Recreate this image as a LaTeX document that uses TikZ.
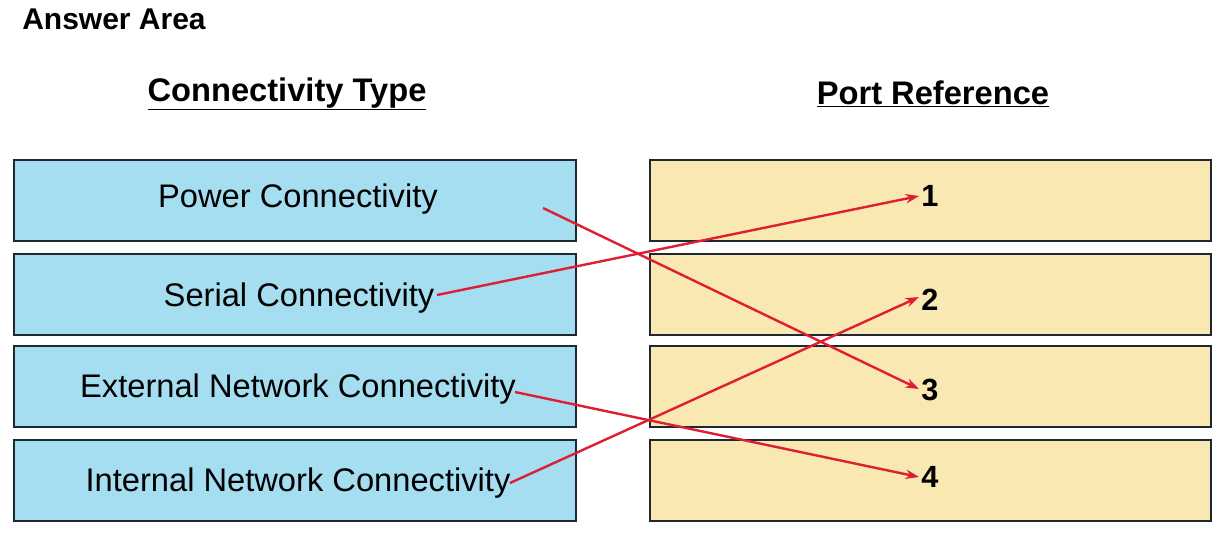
\documentclass[tikz,border=0pt]{standalone}
\usepackage{fontspec}
\setmainfont{Liberation Sans}
\usetikzlibrary{arrows.meta}
\definecolor{boxblue}{RGB}{164,222,240}
\definecolor{boxyellow}{RGB}{249,232,178}
\definecolor{boxedge}{RGB}{30,40,50}
\definecolor{arrowred}{RGB}{222,30,50}
\tikzset{
  leftbox/.style={draw=boxedge, line width=1.5pt, fill=boxblue, minimum width=421.5pt, minimum height=60.75pt, inner sep=0pt},
  rightbox/.style={draw=boxedge, line width=1.5pt, fill=boxyellow, minimum width=420.75pt, minimum height=60.75pt, inner sep=0pt},
  boxtext/.style={font=\fontsize{24.5pt}{28pt}\selectfont, inner sep=0pt, anchor=center},
  heading/.style={font=\bfseries\fontsize{24.5pt}{28pt}\selectfont, inner sep=0pt},
  num/.style={font=\bfseries\fontsize{23pt}{26pt}\selectfont, inner sep=0pt},
  link/.style={draw=arrowred, line width=1.8pt, -{Stealth[length=10pt,width=7pt]}}
}
\begin{document}
\begin{tikzpicture}[x=0.75pt,y=-0.75pt]
\useasboundingbox (0,0) rectangle (1217,537);
\fill[white] (0,0) rectangle (1217,537);
\node[font=\bfseries\fontsize{22.5pt}{26pt}\selectfont, inner sep=0pt, anchor=west] (title) at (22,19) {Answer Area};
\node[heading] (h1) at (287,94) {\underline{Connectivity Type}};
\node[heading] (h2) at (933,94) {\underline{Port Reference}};
% left boxes
\node[leftbox] (l1) at (295,200.5) {};
\node[leftbox] (l2) at (295,294.5) {};
\node[leftbox] (l3) at (295,386.5) {};
\node[leftbox] (l4) at (295,480.5) {};
\node[boxtext] (t1) at (298,199) {Power Connectivity};
\node[boxtext] (t2) at (299,298) {Serial Connectivity};
\node[boxtext] (t3) at (298,389) {External Network Connectivity};
\node[boxtext] (t4) at (298,483) {Internal Network Connectivity};
% right boxes
\node[rightbox] (r1) at (930.5,200.5) {};
\node[rightbox] (r2) at (930.5,294.5) {};
\node[rightbox] (r3) at (930.5,386.5) {};
\node[rightbox] (r4) at (930.5,480.5) {};
\node[num] (n1) at (930,196) {1};
\node[num] (n2) at (930,300) {2};
\node[num] (n3) at (930,390) {3};
\node[num] (n4) at (930,477) {4};
% arrow starts and ends
\coordinate (s1) at (543,208);
\coordinate (s2) at (437,295);
\coordinate (s3) at (515,392);
\coordinate (s4) at (510,483);
\coordinate (e1) at (919,196);
\coordinate (e2) at (919,297);
\coordinate (e3) at (919,389);
\coordinate (e4) at (919,477);
\draw[link] (s1) -- (e3);
\draw[link] (s2) -- (e1);
\draw[link] (s3) -- (e4);
\draw[link] (s4) -- (e2);
\end{tikzpicture}
\end{document}
